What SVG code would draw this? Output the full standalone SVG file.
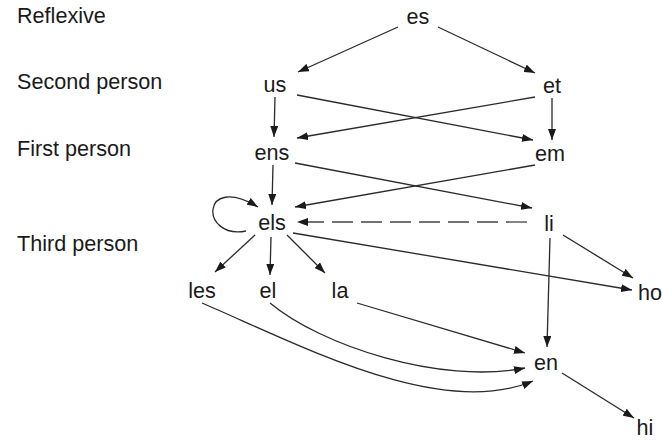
<svg xmlns="http://www.w3.org/2000/svg" width="662" height="441" viewBox="0 0 662 441">
<style>
text{font-family:"Liberation Sans",Arial,Helvetica,sans-serif;font-size:21.6px;fill:#1a1a1a}
.n text{text-anchor:middle}
.e{fill:none;stroke:#2a2a2a;stroke-width:1.3;marker-end:url(#ah)}
.d{stroke:#444;stroke-dasharray:21 8}
</style>
<defs>
<marker id="ah" markerUnits="userSpaceOnUse" markerWidth="11" markerHeight="8" refX="11" refY="4" orient="auto">
<path d="M0,0 L11,4 L0,8 z" fill="#1a1a1a"/>
</marker>
</defs>
<rect width="662" height="441" fill="#fff"/>
<g id="labels">
<text x="17" y="23">Reflexive</text>
<text x="17" y="89">Second person</text>
<text x="17" y="156">First person</text>
<text x="17" y="251">Third person</text>
</g>
<g id="connectors">
<path class="e" d="M398,27 L298,72"/>
<path class="e" d="M438,27 L535,73"/>
<path class="e" d="M275,97 L274,137"/>
<path class="e" d="M297,95 L533,140"/>
<path class="e" d="M535,97 L297,138"/>
<path class="e" d="M552,98 L552,140"/>
<path class="e" d="M295,163 L532,208"/>
<path class="e" d="M535,165 L295,207"/>
<path class="e" d="M273,165 L272,205"/>
<path class="e" d="M246,231 C200,240 200,172 258,207"/>
<path class="e d" d="M527,222 L297,222"/>
<path class="e" d="M255,235 L215,272"/>
<path class="e" d="M271,237 L270,275"/>
<path class="e" d="M287,235 L325,273"/>
<path class="e" d="M293,233 L632,290"/>
<path class="e" d="M563,235 L633,278"/>
<path class="e" d="M550,238 L547,347"/>
<path class="e" d="M357,303 L525,353"/>
<path class="e" d="M270,303 C320,345 440,385 525,368"/>
<path class="e" d="M202,303 C300,345 440,420 533,381"/>
<path class="e" d="M562,373 L634,418"/>
</g>
<g class="n" id="n-es"><text x="418" y="24">es</text></g>
<g class="n" id="n-us"><text x="275" y="92">us</text></g>
<g class="n" id="n-et"><text x="552" y="93">et</text></g>
<g class="n" id="n-ens"><text x="272" y="160">ens</text></g>
<g class="n" id="n-em"><text x="550" y="161">em</text></g>
<g class="n" id="n-els"><text x="272" y="230">els</text></g>
<g class="n" id="n-li"><text x="549" y="231">li</text></g>
<g class="n" id="n-ho"><text x="650" y="300">ho</text></g>
<g class="n" id="n-les"><text x="202" y="298">les</text></g>
<g class="n" id="n-el"><text x="268" y="298">el</text></g>
<g class="n" id="n-la"><text x="340" y="298">la</text></g>
<g class="n" id="n-en"><text x="546" y="370">en</text></g>
<g class="n" id="n-hi"><text x="645" y="435">hi</text></g>
</svg>
